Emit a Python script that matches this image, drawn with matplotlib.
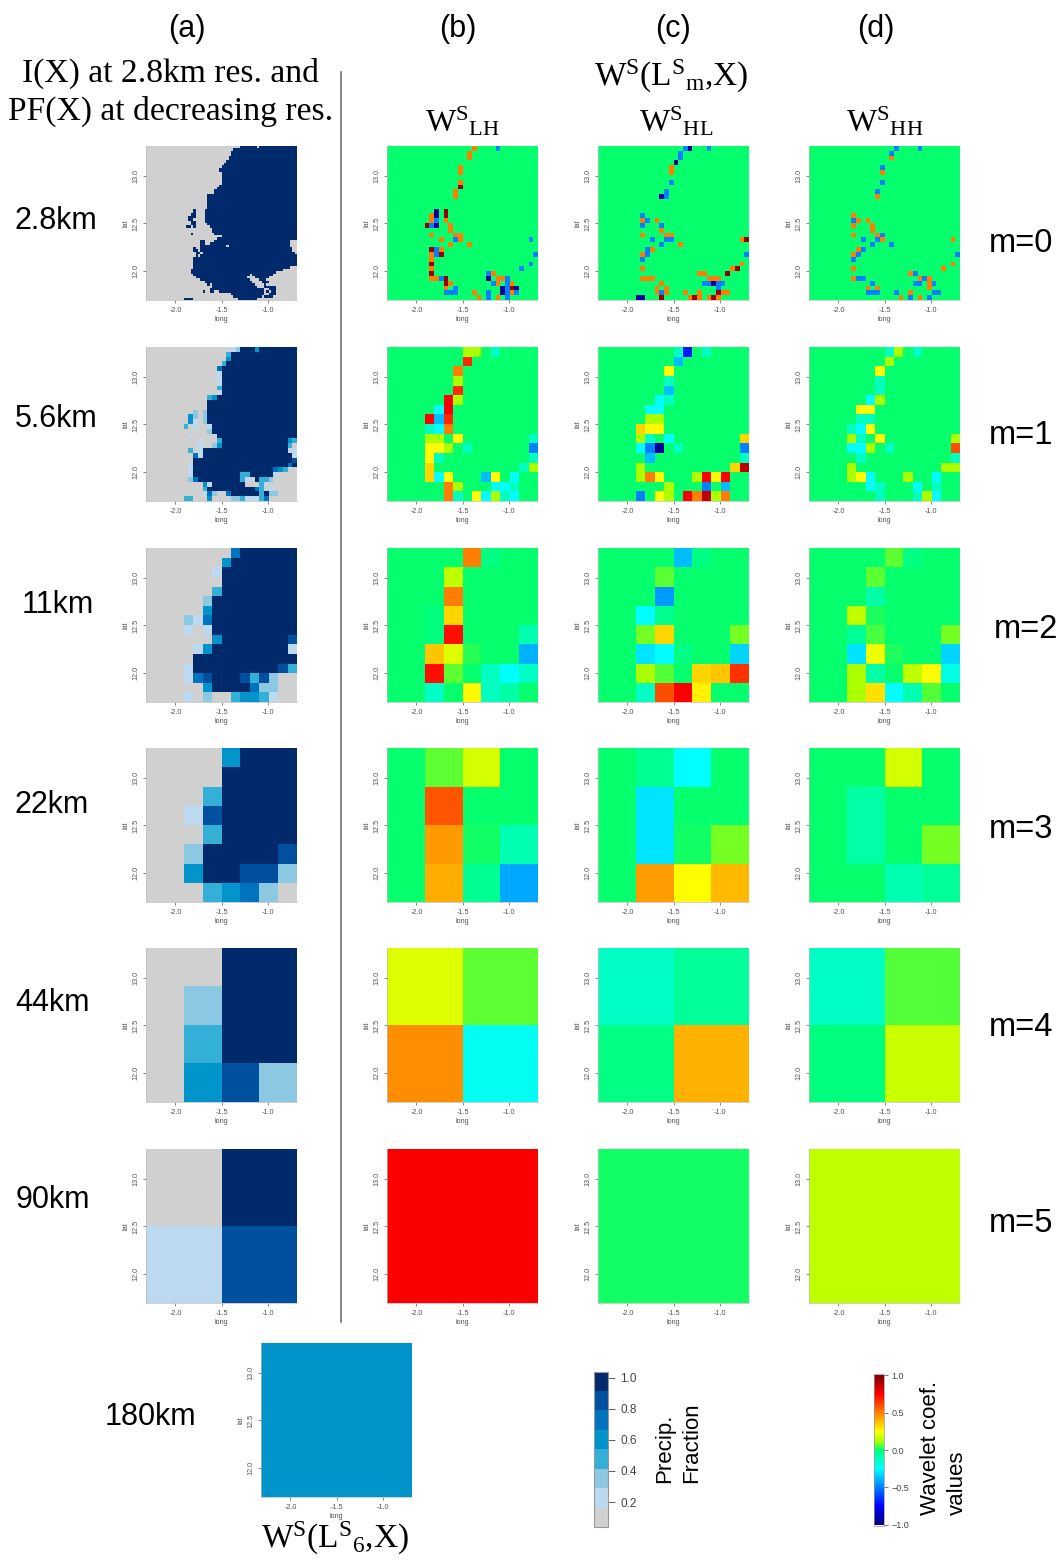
import numpy as np
import matplotlib
matplotlib.use('Agg')
import matplotlib.pyplot as plt
from matplotlib.colors import ListedColormap, BoundaryNorm, LinearSegmentedColormap, Normalize
from matplotlib.cm import ScalarMappable

W, H = 1063, 1560
plt.rcParams['font.family'] = 'Liberation Sans'
plt.rcParams['mathtext.fontset'] = 'custom'
plt.rcParams['mathtext.rm'] = 'Liberation Serif'
plt.rcParams['mathtext.it'] = 'Liberation Serif'

# precip fraction levels
pf_colors = ['#D0D0D0', '#BDD9EF', '#8CC8E2', '#33AFD8', '#0094CB', '#0073BF', '#0050A0', '#002A6C']
pf_edges = [0.04, 0.165, 0.29, 0.415, 0.54, 0.665, 0.79, 0.915, 1.036]
pf_values = [0.10, 0.23, 0.35, 0.48, 0.60, 0.73, 0.85, 0.97]

# wavelet coefficient codes
wave_codes = {'.': 0, 'n': -.95, 'd': -.7, 'b': -.5, 's': -.38, 'c': -.25, 't': -.12, 'l': .12,
              'y': .25, 'a': .33, 'o': .5, 'h': .6, 'f': .67, 'R': .75, 'v': .87, 'r': .95}
wave_anchors = [(0, '#000080'), (.125, '#0000FF'), (.25, '#0080FF'), (.375, '#00FFFF'), (.44, '#00FFC0'),
                (.5, '#00FF70'), (.56, '#AAFF00'), (.625, '#FFFF00'), (.75, '#FF8000'), (.875, '#FF0000'),
                (1, '#800000')]

# 2.8km field: precip column runs per row (64 x 64)
pf_2_8_runs = [
    [(40, 46), (48, 63)], [(37, 63)], [(36, 63)], [(36, 63)], [(35, 63)], [(35, 63)], [(34, 63)], [(33, 63)],
    [(32, 63)], [(31, 63)], [(31, 63)], [(32, 63)], [(32, 63)], [(32, 63)], [(32, 63)], [(32, 63)],
    [(31, 63)], [(30, 63)], [(29, 63)], [(29, 63)], [(26, 63)], [(26, 63)], [(26, 63)], [(26, 63)],
    [(26, 63)], [(26, 63)], [(20, 20), (25, 63)], [(20, 20), (25, 63)], [(19, 20), (25, 63)],
    [(18, 20), (25, 63)], [(18, 19), (25, 63)], [(19, 20), (25, 63)], [(19, 20), (26, 63)],
    [(17, 18), (20, 20), (27, 63)], [(28, 63)], [(28, 63)], [(19, 19), (29, 63)], [(32, 63)], [(30, 63)],
    [(23, 24), (29, 60)], [(23, 24), (27, 60)], [(23, 33), (35, 60)], [(20, 20), (23, 61)],
    [(20, 21), (23, 61)], [(21, 22), (24, 62)], [(21, 21), (23, 63)], [(20, 63)], [(20, 63)], [(20, 63)],
    [(20, 63)], [(20, 60)], [(19, 57)], [(19, 54)], [(20, 43), (45, 53)], [(21, 42), (46, 51)],
    [(23, 43), (48, 50)], [(25, 44), (49, 51)], [(26, 26), (28, 45), (50, 50)], [(28, 46), (50, 54)],
    [(27, 28), (29, 49), (52, 54)], [(24, 24), (27, 28), (31, 49), (51, 51), (53, 54)],
    [(36, 49), (52, 54)], [(37, 48), (50, 53)], [(16, 19), (39, 46)],
]

pf_5_6 = [
    '0'*18+'12'+'777'+'4'+'7'*8, '0'*17+'3'+'7'*14, '0'*17+'4'+'7'*14, '0'*16+'3'+'7'*15,
    '0'*15+'5'+'7'*16, '0'*15+'1'+'7'*16, '0'*15+'1'+'7'*16, '0'*15+'1'+'7'*16,
    '0'*15+'3'+'7'*16, '0'*15+'1'+'7'*16, '0'*13+'34'+'7'*17, '0'*13+'7'*19,
    '0'*13+'7'*19, '0'*10+'202'+'7'*19, '0'*9+'4202'+'7'*19, '0'*9+'4102'+'7'*19,
    '0'*8+'301001'+'7'*18, '0'*13+'2'+'7'*18, '0'*9+'1'+'0'*4+'1'+'7'*17,
    '0'*11+'1'+'000'+'3'+'7'*14+'43', '0'*11+'1'+'00'+'24'+'7'*14+'30', '0'*9+'301'+'7'*18+'01',
    '0'*10+'51'+'7'*19+'1', '0'*10+'7'*21+'6', '0'*9+'1'+'7'*20+'57', '0'*9+'1'+'7'*17+'543'+'00',
    '0'*9+'1'+'7'*10+'33'+'7'*5+'1'+'0000', '0'*9+'25'+'7'*9+'310'+'7'+'332'+'0'*5,
    '0'*12+'41'+'7'*7+'0'*3+'3'+'1'+'0'*6, '0'*12+'3'+'7'*10+'5'+'3'+'0'+'1'+'0'*5,
    '0'*12+'152'+'00'+'5'+'7'*6+'3'+'7'+'22'+'0'*4,
    '0'*8+'33'+'000'+'4'+'0'*4+'22'+'3'+'111'+'35'+'0'*6,
]
pf_11 = [
    '0'*9+'5'+'7'*6, '0'*8+'4'+'7'*7, '0'*7+'1'+'7'*8, '0'*8+'7'*8, '0'*7+'3'+'7'*8, '0'*6+'2'+'7'*9,
    '0'*6+'4'+'7'*9, '0'*4+'215'+'7'*9, '0'*4+'101'+'7'*9, '0'*7+'4'+'7'*7+'6', '0'*5+'14'+'7'*8+'1',
    '0'*5+'7'*11, '0'*4+'1'+'7'*9+'63', '0'*4+'156'+'777'+'6362'+'00', '0'*6+'4'+'7'*4+'5'+'22'+'00',
    '0000'+'1'+'0'+'2'+'00'+'3'+'44'+'3'+'1'+'00',
]
pf_22 = ['00004777', '00007777', '00037777', '00167777', '00037777', '00277776', '00477662', '00034520']
pf_44 = ['0077', '0277', '0377', '0462']
pf_90 = ['07', '16']
pf_180 = ['4']

# wavelet grids, rows shorter than the grid are zero to the right
lh_0 = ['.'*18+'o....b', '.'*17+'o', '.'*17+'o', '', '.'*15+'o', '.'*15+'o', '', '.'*15+'o', '.'*15+'r',
        '.'*14+'o', '.'*14+'o', '', '', '.'*10+'n.r', '.'*9+'on.r', '.'*9+'ob.o', '.'*8+'rbn..o', '.'*13+'o',
        '.'*9+'o....oo', '.'*11+'o..bo'+'.'*14+'b', '.'*13+'o...o', '.'*9+'rbo', '.'*9+'obr'+'.'*19+'b',
        '.'*9+'o', '.'*9+'r'+'.'*20+'b', '.'*9+'o'+'.'*18+'b', '.'*9+'r'+'.'*11+'bo',
        '.'*9+'oobr'+'.'*8+'n.oob', '.'*12+'ro'+'.'*8+'bo.bo', '.'*12+'o.b'+'.'*9+'nbrn',
        '.'*12+'bbb...o..b..nbob', '.'*19+'o.b.o.b']
hl_0 = ['.'*18+'bn...b', '.'*17+'b', '.'*17+'b', '.'*16+'n', '.'*15+'o', '.'*15+'o', '', '.'*15+'b', '',
        '.'*14+'b', '.'*13+'nb', '', '', '', '.'*9+'b', '.'*9+'ob.o', '.'*9+'b...b', '.'*13+'o',
        '.'*9+'o....oo', '.'*11+'b..bb'+'.'*14+'or', '.'*13+'b...o', '.'*10+'bo', '.'*9+'ob'+'.'*20+'b',
        '.'*9+'b', '.'*30+'o', '.'*9+'o'+'.'*18+'or', '.'*21+'oo....r', '.'*9+'ooo'+'.'*11+'ooo',
        '.'*13+'o'+'.'*8+'bbnbb', '.'*12+'o.o'+'.'*10+'b', '.'*12+'obo...o..o...roo',
        '.'*8+'nn...r.....oro.oro']
hh_0 = ['.'*18+'b....b', '.'*17+'b', '.'*17+'o', '', '.'*15+'b', '.'*15+'o', '', '.'*15+'b', '',
        '.'*14+'b', '.'*14+'o', '', '', '', '.'*9+'o', '.'*9+'bo.o', '.'*9+'o...o', '.'*13+'o',
        '.'*9+'o....ob', '.'*11+'b..bo'+'.'*14+'o', '.'*13+'b...b', '.'*10+'ob', '.'*9+'ob'+'.'*20+'b',
        '.'*9+'b', '.'*30+'o', '.'*9+'o'+'.'*18+'o', '.'*21+'ob', '.'*9+'obb'+'.'*11+'obo',
        '.'*13+'b'+'.'*8+'bb.ob', '.'*12+'o.o'+'.'*10+'o', '.'*12+'bbb...b..o....bb', '.'*19+'o.b.o.b']

lh_1 = ['.'*8+'ll.t', '.'*8+'f', '.'*7+'o', '.'*7+'l', '.'*7+'f', '.'*6+'Rl', '.'*5+'cR', '.'*4+'Rsf', '.'*4+'tco',
        '.'*4+'ll.y'+'.'*7+'t', '.'*4+'yyl.t'+'.'*6+'b', '.'*4+'yt'+'.'*9+'t', '.'*4+'a'+'.'*9+'tl',
        '.'*4+'acy...sy.c', '.'*6+'ol...cct', '.'*6+'ot.ycltc']
hl_1 = ['.'*8+'td.t', '.'*8+'s', '.'*7+'y', '.'*7+'t', '.'*7+'s', '.'*6+'ct', '.'*5+'cc', '.'*5+'ll', '.'*4+'ayy',
        '.'*4+'lt.c'+'.'*7+'a', '.'*4+'cbn.t'+'.'*6+'b', '.'*5+'s'+'.'*9+'t', '.'*4+'l'+'.'*9+'av',
        '.'*4+'loy...lRyR', '.'*7+'l...b.s', '.'*4+'b.yl.Rovlo']
hh_1 = ['.'*8+'tl.t', '.'*8+'l', '.'*7+'y', '.'*7+'t', '.'*7+'t', '.'*6+'cl', '.'*5+'yy', '.'*5+'tt', '.'*4+'tcy',
        '.'*4+'lt.y'+'.'*7+'l', '.'*4+'ccl.t'+'.'*6+'h', '.'*5+'t'+'.'*9+'t', '.'*4+'l'+'.'*9+'ll',
        '.'*4+'lyc...l..c', '.'*6+'ct...c.t', '.'*7+'t...tlc']

lh_2 = [[0, 0, 0, 0, .5, -.03, 0, 0], [0, 0, 0, .15, 0, 0, 0, 0], [0, 0, 0, .5, 0, 0, 0, 0],
        [0, 0, -.02, .33, 0, 0, 0, 0], [0, 0, -.02, .72, 0, 0, 0, -.1], [0, 0, .36, .2, .03, 0, 0, -.4],
        [0, 0, .72, .07, 0, -.12, -.25, -.13], [0, 0, -.13, 0, .26, -.12, -.08, 0]]
hl_2 = [[0, 0, 0, 0, -.38, -.03, 0, 0], [0, 0, 0, .07, 0, 0, 0, 0], [0, 0, 0, -.45, 0, 0, 0, 0],
        [0, 0, -.25, -.04, 0, 0, 0, 0], [0, 0, .08, .33, 0, 0, 0, .08], [0, 0, -.3, -.25, -.03, 0, 0, -.33],
        [0, 0, .12, .06, 0, .33, .36, .65], [0, 0, -.12, .6, .75, .28, 0, 0]]
hh_2 = [[0, 0, 0, 0, .07, -.03, 0, 0], [0, 0, 0, .07, 0, 0, 0, 0], [0, 0, 0, -.08, 0, 0, 0, 0],
        [0, 0, .15, .02, 0, 0, 0, 0], [0, 0, -.06, .05, 0, 0, 0, .08], [0, 0, -.3, .22, .02, 0, 0, -.33],
        [0, 0, .12, -.08, 0, .15, .25, -.2], [0, 0, .12, .31, -.25, -.1, .06, 0]]

lh_3 = [[0, .07, .18, 0], [0, .58, 0, 0], [0, .45, .01, -.1], [0, .41, -.05, -.42]]
hl_3 = [[0, -.05, -.25, 0], [0, -.3, 0, 0], [0, -.3, .01, .08], [0, .44, .25, .39]]
hh_3 = [[0, 0, .18, 0], [0, -.08, 0, 0], [0, -.08, 0, .08], [0, 0, -.1, -.06]]
lh_4 = [[.2, .07], [.47, -.22]]
hl_4 = [[-.13, -.06], [-.03, .4]]
hh_4 = [[-.13, .06], [-.02, .17]]
lh_5 = [[.75]]
hl_5 = [[.01]]
hh_5 = [[.15]]

row_tops = [146, 347, 548, 748, 948, 1149]
col_lefts = [146, 387, 598, 809]
res_labels = [('2.8km', 56, 221), ('5.6km', 56, 419), ('11km', 58, 605), ('22km', 52, 805), ('44km', 52, 1003),
              ('90km', 53, 1200), ('180km', 150, 1417)]
m_labels = [('m=0', 1021, 243), ('m=1', 1021, 435), ('m=2', 1026, 629), ('m=3', 1021, 829), ('m=4', 1021, 1027),
            ('m=5', 1021, 1224)]

fig = plt.figure(figsize=(W / 100, H / 100), dpi=100)
pf_cmap = ListedColormap(pf_colors)
pf_norm = BoundaryNorm(pf_edges, 8)
wave_cmap = LinearSegmentedColormap.from_list('wave', wave_anchors, N=256)
wave_norm = Normalize(-1, 1)


def put(s, x, y, **kw):
    kw.setdefault('ha', 'center')
    kw.setdefault('va', 'center')
    fig.text(x / W, 1 - y / H, s, **kw)


def map_panel(left, top, grid, cmap, norm):
    ax = fig.add_axes([left / W, 1 - (top + 154) / H, 151 / W, 154 / H])
    grid = np.array(grid, dtype=float)
    lon = np.linspace(-2.32, -0.68, grid.shape[1] + 1)
    lat = np.linspace(13.31, 11.70, grid.shape[0] + 1)
    ax.pcolormesh(lon, lat, grid, cmap=cmap, norm=norm, antialiased=False, rasterized=True)
    ax.set_xlim(-2.32, -0.68)
    ax.set_ylim(11.70, 13.31)
    ax.set_xticks([-2.0, -1.5, -1.0], ['-2.0', '-1.5', '-1.0'])
    ax.set_yticks([12.0, 12.5, 13.0], ['12.0', '12.5', '13.0'], rotation=90, va='center')
    ax.tick_params(labelsize=5.2, colors='#555555', length=2.5, width=0.5, pad=2.5)
    ax.set_xlabel('long', fontsize=5.2, color='#555555', labelpad=1.5)
    ax.set_ylabel('lat', fontsize=5.2, color='#555555', labelpad=2)
    for side in ['top', 'right']:
        ax.spines[side].set_visible(False)
    for side in ['left', 'bottom']:
        ax.spines[side].set_color('#BBBBBB')
        ax.spines[side].set_linewidth(0.5)
    return ax


def pf_grid(rows):
    return [[pf_values[int(c)] for c in r] for r in rows]


def wave_grid(rows, n):
    return [[wave_codes[c] for c in r.ljust(n, '.')] for r in rows]


pf_2_8 = np.full((64, 64), pf_values[0])
for i, runs in enumerate(pf_2_8_runs):
    for a, b in runs:
        pf_2_8[i, a:b + 1] = pf_values[7]

pf_rows = [pf_2_8, pf_grid(pf_5_6), pf_grid(pf_11), pf_grid(pf_22), pf_grid(pf_44), pf_grid(pf_90)]
for top, g in zip(row_tops, pf_rows):
    map_panel(col_lefts[0], top, g, pf_cmap, pf_norm)
map_panel(261, 1343, pf_grid(pf_180), pf_cmap, pf_norm)

wave_rows = [
    (wave_grid(lh_0, 32), wave_grid(hl_0, 32), wave_grid(hh_0, 32)),
    (wave_grid(lh_1, 16), wave_grid(hl_1, 16), wave_grid(hh_1, 16)),
    (lh_2, hl_2, hh_2), (lh_3, hl_3, hh_3), (lh_4, hl_4, hh_4), (lh_5, hl_5, hh_5),
]
for top, trio in zip(row_tops, wave_rows):
    for left, g in zip(col_lefts[1:], trio):
        map_panel(left, top, g, wave_cmap, wave_norm)

# colour bars
cax = fig.add_axes([594 / W, 1 - 1527 / H, 14 / W, 155 / H])
cb = fig.colorbar(ScalarMappable(pf_norm, pf_cmap), cax=cax, spacing='proportional', ticks=[.2, .4, .6, .8, 1.0])
cb.ax.minorticks_off()
cb.ax.tick_params(labelsize=8.5, colors='#444444', length=5, width=0.6, pad=4)
cb.outline.set_edgecolor('#999999')
cb.outline.set_linewidth(0.8)

cax2 = fig.add_axes([874 / W, 1 - 1526 / H, 10 / W, 152 / H])
cb2 = fig.colorbar(ScalarMappable(wave_norm, wave_cmap), cax=cax2, ticks=[-1, -.5, 0, .5, 1])
cb2.ax.set_ylim(-1.02, 1.02)
cb2.ax.tick_params(labelsize=6.5, colors='#444444', length=3, width=0.5, pad=2.5)
cb2.outline.set_edgecolor('#999999')
cb2.outline.set_linewidth(0.5)

# separator
fig.add_artist(plt.Line2D([341 / W, 341 / W], [1 - 72 / H, 1 - 1322 / H], color='#707070', lw=1.2))

# headers
for s, x in zip(['(a)', '(b)', '(c)', '(d)'], [187, 458, 673, 876]):
    put(s, x, 29, fontsize=22)
put('I(X) at 2.8km res. and', 171, 73, fontsize=24.2, family='Liberation Serif')
put('PF(X) at decreasing res.', 171, 111, fontsize=24.2, family='Liberation Serif')
put(r'$\mathrm{W^{S}(L^{S}{}_{m}{,}X)}$', 671, 76, fontsize=24)
put(r'$\mathrm{W^{S}{}_{LH}}$', 463, 122, fontsize=23)
put(r'$\mathrm{W^{S}{}_{HL}}$', 676, 122, fontsize=23)
put(r'$\mathrm{W^{S}{}_{HH}}$', 885, 122, fontsize=23)
put(r'$\mathrm{W^{S}(L^{S}{}_{6}{,}X)}$', 335, 1538, fontsize=24)

for s, x, y in res_labels:
    put(s, x, y, fontsize=22)
for s, x, y in m_labels:
    put(s, x, y, fontsize=23.5)

put('Precip.', 665, 1483, fontsize=16, rotation=90, va='bottom')
put('Fraction', 692, 1483, fontsize=16, rotation=90, va='bottom')
put('Wavelet coef.', 930, 1515, fontsize=16, rotation=90, va='bottom')
put('values', 957, 1515, fontsize=16, rotation=90, va='bottom')

fig.savefig('out.png', dpi=100)
